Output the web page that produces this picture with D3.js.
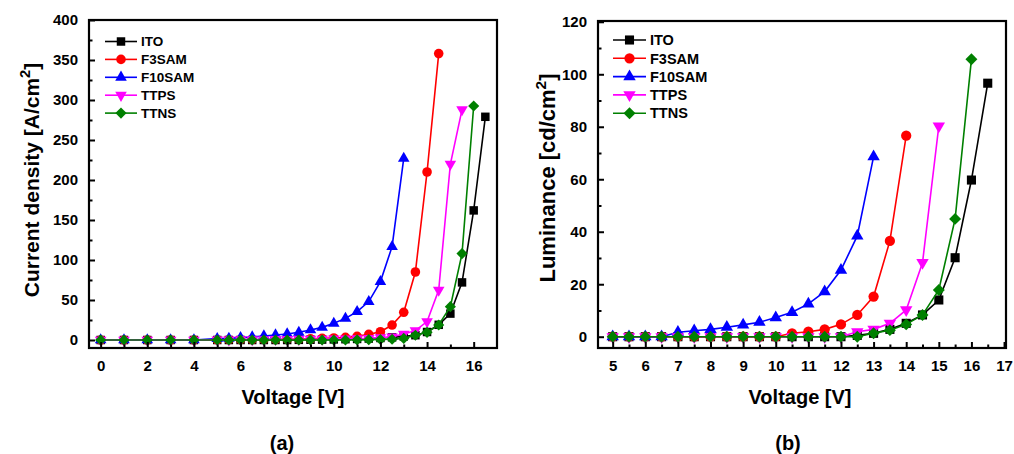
<!DOCTYPE html>
<html><head><meta charset="utf-8">
<script src="https://cdn.jsdelivr.net/npm/d3@7"></script>
<style>
html,body{margin:0;padding:0;background:#fff;}
svg{display:block;font-family:"Liberation Sans",Arial,sans-serif;font-weight:bold;}
</style></head>
<body><svg id="c" width="1014" height="454"></svg>
<script>
// ---------- DATA ----------
const seriesNames = ["ITO","F3SAM","F10SAM","TTPS","TTNS"];
const seriesColors = ["#000000","#ff0000","#0000ff","#ff00ff","#008000"];

// (a) Current density vs voltage
const jvVoltage = [0,1,2,3,4,5,5.5,6,6.5,7,7.5,8,8.5,9,9.5,10,10.5,11,11.5,12,12.5,13,13.5,14,14.5,15,15.5,16,16.5];
const jvITO    = [0,0,0,0,0, 0,0,0,0,0,0,0,0.2,0.3,0.5,0.7,1,1.3,1.8,2.5,3.3,4.5,6,10,19,33,72,162,279];
const jvF3SAM  = [0,0,0,0,0, 0.3,0.4,0.5,0.6,0.7,0.8,1,1.2,1.5,2,2.5,3.3,4.5,7,10.4,18.7,34.6,85,210,358];
const jvF10SAM = [0,0,0,0,0, 1.7,2,3,3.7,5,6.2,7.5,9.6,12.5,15.8,20.8,27,35.4,48,73,116.7,227];
const jvTTPS   = [0,0,0,0,0, 0.2,0.3,0.4,0.5,0.6,0.7,0.8,0.9,1,1.2,1.4,1.6,1.9,2.2,3,4,7.5,11.7,23,62.5,220,288];
const jvTTNS   = [0,0,0,0,0, 0,0,0,0,0,0,0,0,0,0,0,0,0.2,0.4,0.6,1,2,6,9.6,18.7,41.7,108,292.5];

// (b) Luminance vs voltage
const lvVoltage = [5,5.5,6,6.5,7,7.5,8,8.5,9,9.5,10,10.5,11,11.5,12,12.5,13,13.5,14,14.5,15,15.5,16,16.5];
const lvITO    = [0,0,0,0,0,0,0,0,0,0,0,0,0,0,0,0.5,1.3,2.8,5.1,8.3,14,30.1,59.7,96.6];
const lvF3SAM  = [0,0,0,0,0,0,0,0,0,0,0,1.3,1.9,2.8,4.7,8.3,15.3,36.5,76.6];
const lvF10SAM = [0,0,0,0,1.7,2.3,2.8,3.6,4.5,5.5,7.3,9.3,12.5,17.2,25.4,38.4,68.6];
const lvTTPS   = [0,0,0,0,0,0,0,0,0,0,0,0,0,0,0,1.9,2.8,5.1,10.2,28.2,80.3];
const lvTTNS   = [0,0,0,0,0,0,0,0,0,0,0,0,0,0,0,0,1.3,2.5,4.7,8.3,17.8,44.9,105.7];

// ticks
const jvXTicks = [0,2,4,6,8,10,12,14,16];
const jvYTicks = [0,50,100,150,200,250,300,350,400];
const lvXTicks = [5,6,7,8,9,10,11,12,13,14,15,16,17];
const lvYTicks = [0,20,40,60,80,100,120];

const svg = d3.select("#c");

const symbols = [
  {type:d3.symbolSquare, size:72, rot:0},
  {type:d3.symbolCircle, size:72, rot:0},
  {type:d3.symbolTriangle, size:58, rot:0},
  {type:d3.symbolTriangle, size:58, rot:180},
  {type:d3.symbolSquare, size:62, rot:45}
];

function drawChart(cfg){
  const g = svg.append("g");
  const x = d3.scaleLinear().domain(cfg.xDomain).range([cfg.left, cfg.right]);
  const y = d3.scaleLinear().domain(cfg.yDomain).range([cfg.bottom, cfg.top]);

  // series
  cfg.series.forEach((vals, i) => {
    const pts = vals.map((v, k) => [cfg.xs[k], v]);
    g.append("path")
      .attr("d", d3.line().x(d => x(d[0])).y(d => y(d[1]))(pts))
      .attr("fill","none").attr("stroke", seriesColors[i]).attr("stroke-width",1.6);
    const sym = symbols[i];
    g.selectAll(null).data(pts).enter().append("path")
      .attr("d", d3.symbol().type(sym.type).size(sym.size*cfg.mscale))
      .attr("transform", d => `translate(${x(d[0])},${y(d[1])}) rotate(${sym.rot})`)
      .attr("fill", seriesColors[i]);
  });

  // axes (ticks inward)
  const xAx = d3.axisBottom(x).tickValues(cfg.xTicks).tickSize(-6).tickPadding(12).tickFormat(d3.format("d"));
  const xMinor = d3.axisBottom(x).tickValues(cfg.xMinor).tickSize(-3.5).tickFormat("");
  const yAx = d3.axisLeft(y).tickValues(cfg.yTicks).tickSize(-6).tickPadding(11).tickFormat(d3.format("d"));
  const yMinor = d3.axisLeft(y).tickValues(cfg.yMinor).tickSize(-3.5).tickFormat("");
  [ [xAx, `translate(0,${cfg.bottom})`], [xMinor, `translate(0,${cfg.bottom})`],
    [yAx, `translate(${cfg.left},0)`], [yMinor, `translate(${cfg.left},0)`] ].forEach(([ax, tr]) => {
    const a = g.append("g").attr("transform", tr).call(ax);
    a.select(".domain").remove();
    a.selectAll("line").attr("stroke","#000").attr("stroke-width",2);
    a.selectAll("text").attr("font-size",15).attr("font-weight","bold").attr("fill","#000")
      .attr("font-family","'Liberation Sans',Arial,sans-serif");
  });

  // frame
  g.append("rect").attr("x",cfg.left).attr("y",cfg.top)
    .attr("width",cfg.right-cfg.left).attr("height",cfg.bottom-cfg.top)
    .attr("fill","none").attr("stroke","#000").attr("stroke-width",2.2);

  // legend
  seriesNames.forEach((n, i) => {
    const ly = cfg.legY + i*cfg.legDy;
    g.append("line").attr("x1",cfg.legX).attr("x2",cfg.legX+cfg.legLen).attr("y1",ly).attr("y2",ly)
      .attr("stroke",seriesColors[i]).attr("stroke-width",1.6);
    const sym = symbols[i];
    g.append("path").attr("d", d3.symbol().type(sym.type).size(sym.size*cfg.mscale))
      .attr("transform",`translate(${cfg.legX+cfg.legLen/2},${ly}) rotate(${sym.rot})`)
      .attr("fill",seriesColors[i]);
    g.append("text").attr("x",cfg.legX+cfg.legLen+4).attr("y",ly).attr("dy","0.36em")
      .attr("font-size",cfg.legFont).text(n);
  });

  // x title
  g.append("text").attr("x",cfg.xTitleX).attr("y",404).attr("text-anchor","middle")
    .attr("font-size",20).text("Voltage [V]");
  // panel label
  g.append("text").attr("x",cfg.panelX).attr("y",450).attr("text-anchor","middle")
    .attr("font-size",20).text(cfg.panel);
  // y title
  const yt = g.append("text").attr("transform",`translate(${cfg.yTitleX},${cfg.yTitleY}) rotate(-90)`)
    .attr("text-anchor","middle").attr("font-size",cfg.yTitleFont);
  yt.append("tspan").text(cfg.yTitle[0]);
  yt.append("tspan").attr("dy",-9).attr("font-size",cfg.yTitleFont*0.7).text("2");
  yt.append("tspan").attr("dy",9).text("]");
}

drawChart({
  left:89, right:497, top:20, bottom:348,
  xDomain:[-0.5,17], yDomain:[-10,400],
  xs: jvVoltage,
  series:[jvITO, jvF3SAM, jvF10SAM, jvTTPS, jvTTNS],
  xTicks: jvXTicks, xMinor: d3.range(1,17,2),
  yTicks: jvYTicks, yMinor: d3.range(25,400,50),
  legX:105, legY:41.5, legDy:17.9, legLen:32, legFont:13.5, mscale:1,
  xTitleX:293, panelX:282, panel:"(a)",
  yTitleX:39, yTitleY:180, yTitleFont:21, yTitle:["Current density [A/cm"]
});

drawChart({
  left:598, right:1006, top:21, bottom:348,
  xDomain:[4.55,17.06], yDomain:[-4.3,120.3],
  xs: lvVoltage,
  series:[lvITO, lvF3SAM, lvF10SAM, lvTTPS, lvTTNS],
  xTicks: lvXTicks, xMinor: d3.range(5.5,17,1),
  yTicks: lvYTicks, yMinor: d3.range(10,120,20),
  legX:613, legY:40, legDy:18.3, legLen:33, legFont:14.5, mscale:1.15,
  xTitleX:800, panelX:788, panel:"(b)",
  yTitleX:555, yTitleY:178, yTitleFont:22, yTitle:["Luminance [cd/cm"]
});
</script></body></html>
